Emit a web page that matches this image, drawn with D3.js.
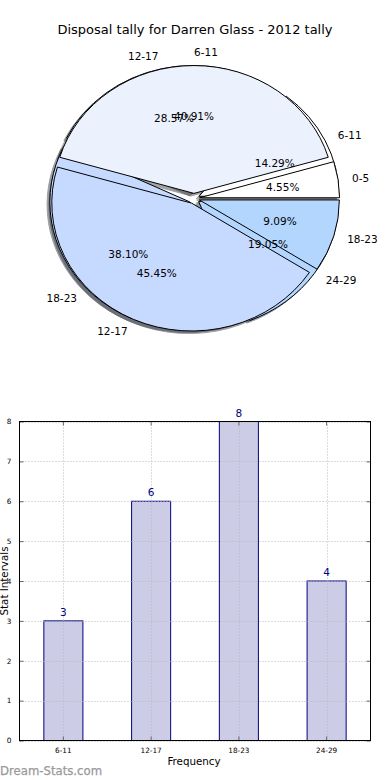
<!DOCTYPE html>
<html>
<head>
<meta charset="utf-8">
<script src="https://cdn.jsdelivr.net/npm/d3@7"></script>
<style>
  html, body { margin: 0; padding: 0; background: #fff; }
  svg { display: block; font-family: "DejaVu Sans", sans-serif; }
</style>
</head>
<body>
<svg id="chart" width="390" height="780"></svg>
<script>
// ---------- data ----------
const pieTitle = "Disposal tally for Darren Glass - 2012 tally";
// first (underneath) pie
const pieBLabels = ["6-11", "12-17", "18-23", "24-29"];
const pieBValues = [3, 6, 8, 4];
// second (on top) pie
const pieALabels = ["0-5", "6-11", "12-17", "18-23"];
const pieAValues = [1, 9, 10, 2];
const pieColors = ["#ffffff", "#ebf2fe", "#c6d9fe", "#b3d6fe"];

const barCategories = ["6-11", "12-17", "18-23", "24-29"];
const barValues = [3, 6, 8, 4];
const yTicks = [0, 1, 2, 3, 4, 5, 6, 7, 8];
const xLabel = "Frequency";
const yLabel = "Stat Intervals";
const watermark = "Dream-Stats.com";

(function () {
// ---------- pie ----------
const svg = d3.select("#chart");
const cx = 194, cy = 198.5, rx = 140, ry = 128;
const EXPLODE = 0.04;

svg.append("text")
  .attr("x", 195).attr("y", 34)
  .attr("text-anchor", "middle")
  .attr("font-size", 13)
  .attr("fill", "#000")
  .text(pieTitle);

const pieGen = d3.pie().sort(null).value(d => d)
  .startAngle(Math.PI / 2).endAngle(Math.PI / 2 - 2 * Math.PI);
const arcGen = d3.arc().innerRadius(0).outerRadius(1);

function pieInfo(values, labels) {
  const total = d3.sum(values);
  return pieGen(values).map((a, i) => {
    const m = (a.startAngle + a.endAngle) / 2;
    const ux = Math.sin(m), uy = -Math.cos(m);
    return {
      arc: a, i, label: labels[i],
      pct: d3.format(".2f")(values[i] / total * 100) + "%",
      ux, uy,
      ox: cx + EXPLODE * ux * rx,
      oy: cy + EXPLODE * uy * ry,
      color: pieColors[i % pieColors.length]
    };
  });
}

const pies = [pieInfo(pieBValues, pieBLabels), pieInfo(pieAValues, pieALabels)];

function shadowColor(c) {
  const k = d3.rgb(c);
  return d3.rgb(k.r * 0.3, k.g * 0.3, k.b * 0.3).toString();
}

const gShadow = svg.append("g");
const gWedge = svg.append("g");
const gText = svg.append("g");

pies.forEach(info => {
  info.forEach(d => {
    gShadow.append("path")
      .attr("d", arcGen(d.arc))
      .attr("transform", `translate(${d.ox - 0.02 * rx},${d.oy + 0.02 * ry}) scale(${rx},${ry})`)
      .attr("fill", shadowColor(d.color))
      .attr("stroke", shadowColor(d.color))
      .attr("stroke-width", 1)
      .attr("vector-effect", "non-scaling-stroke")
      .attr("opacity", 0.5);
  });
});

pies.forEach(info => {
  info.forEach(d => {
    gWedge.append("path")
      .attr("d", arcGen(d.arc))
      .attr("transform", `translate(${d.ox},${d.oy}) scale(${rx},${ry})`)
      .attr("fill", d.color)
      .attr("stroke", "#000")
      .attr("stroke-width", 1)
      .attr("stroke-linejoin", "round")
      .attr("vector-effect", "non-scaling-stroke");
  });
});

pies.forEach(info => {
  info.forEach(d => {
    gText.append("text")
      .attr("x", d.ox + 1.1 * d.ux * rx)
      .attr("y", d.oy + 1.1 * d.uy * ry)
      .attr("dy", "0.36em")
      .attr("text-anchor", d.ux > -1e-6 ? "start" : "end")
      .attr("font-size", 10.5)
      .text(d.label);
    gText.append("text")
      .attr("x", d.ox + 0.6 * d.ux * rx)
      .attr("y", d.oy + 0.6 * d.uy * ry)
      .attr("dy", "0.36em")
      .attr("text-anchor", "middle")
      .attr("font-size", 10.5)
      .text(d.pct);
  });
});

// ---------- bar chart ----------
const pLeft = 19.5, pRight = 370.5, pTop = 421.5, pBottom = 740.5;
const x = d3.scaleBand().domain(barCategories).range([pLeft, pRight]).paddingInner(0).paddingOuter(0);
const y = d3.scaleLinear().domain([0, 8]).range([pBottom, pTop]);
const barW = x.bandwidth() * 0.445;
const navy = "#000080";

const gb = svg.append("g");

gb.selectAll("rect.bar").data(barValues).enter().append("rect")
  .attr("class", "bar")
  .attr("x", (d, i) => x(barCategories[i]) + x.bandwidth() / 2 - barW / 2)
  .attr("y", d => y(d))
  .attr("width", barW)
  .attr("height", d => y(0) - y(d))
  .attr("fill", navy).attr("fill-opacity", 0.2)
  .attr("stroke", navy).attr("stroke-width", 1);

// grid (drawn above bars)
gb.selectAll("line.hg").data(yTicks).enter().append("line")
  .attr("x1", pLeft).attr("x2", pRight)
  .attr("y1", d => Math.round(y(d)) + 0.5).attr("y2", d => Math.round(y(d)) + 0.5)
  .attr("stroke", "#b8b8b8").attr("stroke-width", 1).attr("stroke-dasharray", "1,2");
gb.selectAll("line.vg").data(barCategories).enter().append("line")
  .attr("x1", d => Math.round(x(d) + x.bandwidth() / 2) + 0.5)
  .attr("x2", d => Math.round(x(d) + x.bandwidth() / 2) + 0.5)
  .attr("y1", pTop).attr("y2", pBottom)
  .attr("stroke", "#b8b8b8").attr("stroke-width", 1).attr("stroke-dasharray", "1,2");

// axes via d3 axis (ticks inward)
const yAxisL = d3.axisLeft(y).tickValues(yTicks).tickSize(-4).tickPadding(8).tickFormat(d3.format("d"));
const yAxisR = d3.axisRight(y).tickValues(yTicks).tickSize(-4).tickFormat("");
const xAxisB = d3.axisBottom(x).tickSize(-4).tickPadding(7);
const xAxisT = d3.axisTop(x).tickSize(-4).tickFormat("");

function styleAxis(g) {
  g.select(".domain").remove();
  g.selectAll(".tick line").attr("stroke", "#666");
  g.selectAll("text").attr("font-size", 7.3).attr("fill", "#000").attr("font-family", "DejaVu Sans, sans-serif");
}
gb.append("g").attr("transform", `translate(${pLeft},0)`).call(yAxisL).call(styleAxis);
gb.append("g").attr("transform", `translate(${pRight},0)`).call(yAxisR).call(styleAxis);
gb.append("g").attr("transform", `translate(0,${pBottom})`).call(xAxisB).call(styleAxis);
gb.append("g").attr("transform", `translate(0,${pTop})`).call(xAxisT).call(styleAxis);

// frame
gb.append("rect")
  .attr("x", pLeft).attr("y", pTop)
  .attr("width", pRight - pLeft).attr("height", pBottom - pTop)
  .attr("fill", "none").attr("stroke", "#000").attr("stroke-width", 1);

// value labels
gb.selectAll("text.val").data(barValues).enter().append("text")
  .attr("class", "val")
  .attr("x", (d, i) => x(barCategories[i]) + x.bandwidth() / 2)
  .attr("y", d => y(d) - 5)
  .attr("text-anchor", "middle")
  .attr("font-size", 10.5)
  .attr("fill", navy)
  .text(d => d);

// axis labels
gb.append("text")
  .attr("x", 194).attr("y", 765)
  .attr("text-anchor", "middle")
  .attr("font-size", 10.3)
  .text(xLabel);
gb.append("text")
  .attr("transform", "translate(8,581) rotate(-90)")
  .attr("text-anchor", "middle")
  .attr("font-size", 10.3)
  .text(yLabel);

// watermark
svg.append("text")
  .attr("x", 0).attr("y", 775)
  .attr("font-size", 11.7)
  .attr("fill", "#999999")
  .attr("stroke", "#999999").attr("stroke-width", 0.25)
  .text(watermark);
})();
</script>
</body>
</html>
